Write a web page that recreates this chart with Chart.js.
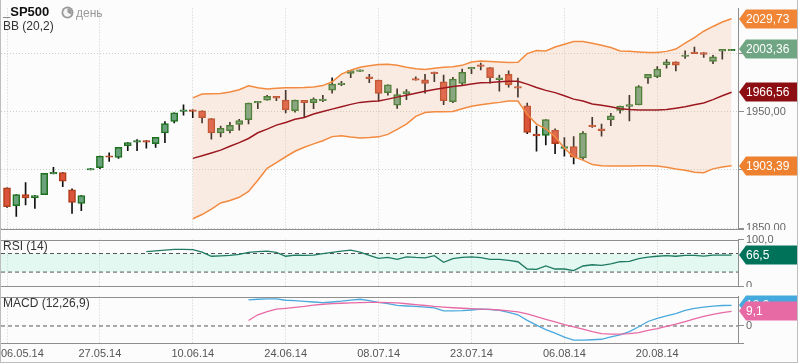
<!DOCTYPE html>
<html><head><meta charset="utf-8">
<script src="https://cdn.jsdelivr.net/npm/chart.js@4.4.1/dist/chart.umd.min.js"></script>
<style>
html,body{margin:0;padding:0;background:#fcfcfc;}
#wrap{position:relative;width:798px;height:363px;background:#fcfcfc;overflow:hidden;font-family:"Liberation Sans",Arial,sans-serif;}
.pane{position:absolute;left:0;width:798px;overflow:hidden;}
.pane canvas{position:absolute;left:0;top:0;}
#frame{position:absolute;left:0;top:0;width:798px;height:363px;box-sizing:border-box;border:1px solid #bdbdbd;border-top:none;pointer-events:none;}
.lbl{position:absolute;white-space:nowrap;font-size:12px;line-height:14px;color:#333;}
</style></head>
<body>
<div id="wrap">
  <div class="pane" style="top:0;height:230px"><canvas id="cMain" width="798" height="240"></canvas></div>
  <div class="pane" style="top:231px;height:56px"><canvas id="cRsi" width="798" height="70"></canvas></div>
  <div class="pane" style="top:288px;height:75px"><canvas id="cMacd" width="798" height="75"></canvas></div>
  <div class="lbl" style="left:3px;top:4px;font-size:13px;line-height:15px;font-weight:bold;color:#111">_SP500</div>
  <svg style="position:absolute;left:61px;top:6px" width="13" height="13" viewBox="0 0 13 13">
    <circle cx="6.5" cy="6.5" r="6" fill="#9a9a9a"/>
    <circle cx="6.5" cy="6.5" r="4.2" fill="#f4f4f4"/>
    <path d="M6.5 6.5 L6.5 2.3 A4.2 4.2 0 0 1 10.2 8.5 Z" fill="#9a9a9a"/>
  </svg>
  <div class="lbl" style="left:76px;top:6px;color:#999">день</div>
  <div class="lbl" style="left:3px;top:19px">BB (20,2)</div>
  <div class="lbl" style="left:3px;top:239px">RSI (14)</div>
  <div class="lbl" style="left:3px;top:296px">MACD (12,26,9)</div>
  <div id="frame"></div>
</div>
<script>
// ---------------- data ----------------
const CANDLE_OPEN = [1884.5,1869.3,1878.7,1875.9,1878.7,1896.5,1897.7,1882.8,1871.2,1899.8,
 1901.8,1912.0,1910.6,1920.8,1923.8,1925.0,1922.5,1931.6,1941.5,1950.2,
 1951.4,1950.6,1944.0,1931.6,1933.7,1939.0,1943.1,1957.4,1959.7,1963.0,
 1959.9,1950.8,1959.7,1957.7,1959.3,1968.4,1973.1,1982.8,1984.5,1979.8,
 1977.0,1966.3,1955.5,1965.1,1978.3,1977.3,1983.9,1975.6,1958.5,1974.2,
 1986.6,1990.2,1987.8,1977.5,1982.0,1971.5,1955.0,1930.7,1929.6,1934.1,
 1918.3,1920.0,1910.3,1938.4,1935.1,1942.8,1951.1,1954.4,1955.8,1978.7,
 1980.0,1990.2,1992.7,1997.4,2001.2,2000.7,1993.0,2001.8,2002.3];
const CANDLE_HIGH = [1884.5,1878.7,1889.1,1877.9,1896.9,1902.1,1897.7,1883.6,1877.9,1901.0,
 1911.7,1914.5,1919.2,1923.3,1926.0,1925.0,1927.9,1941.5,1948.9,1955.8,
 1951.4,1950.6,1944.0,1937.6,1940.7,1943.4,1957.2,1958.8,1964.0,1963.0,
 1968.2,1959.9,1959.7,1961.8,1964.0,1978.9,1975.9,1985.3,1985.8,1982.0,
 1977.0,1972.9,1969.6,1968.8,1979.8,1982.0,1983.9,1981.4,1979.5,1986.6,
 1988.0,1991.6,1987.8,1981.4,1985.0,1978.7,1957.4,1937.6,1943.1,1935.1,
 1927.7,1928.5,1932.9,1945.0,1939.3,1948.6,1954.7,1964.0,1972.3,1982.0,
 1988.6,1994.6,1992.7,2002.1,2005.4,2000.7,1998.2,2003.5,2003.4];
const CANDLE_LOW = [1867.6,1859.9,1869.8,1866.8,1878.7,1896.5,1885.5,1862.6,1864.9,1899.8,
 1901.0,1907.3,1909.8,1916.4,1916.4,1918.6,1919.2,1923.3,1940.3,1946.9,
 1944.8,1940.3,1926.3,1928.3,1931.6,1934.1,1939.5,1952.5,1959.7,1959.3,
 1948.9,1949.4,1944.8,1952.5,1958.5,1965.9,1972.3,1979.2,1984.5,1974.8,
 1959.1,1964.0,1952.7,1960.2,1977.0,1965.9,1975.6,1956.0,1957.7,1973.1,
 1982.5,1985.8,1974.5,1967.6,1970.9,1962.4,1931.0,1916.1,1921.3,1913.9,
 1911.7,1905.1,1908.9,1936.5,1928.8,1937.9,1948.6,1942.0,1955.8,1974.2,
 1979.2,1987.2,1985.0,1995.7,1999.8,1996.5,1991.1,1994.9,2002.3];
const CANDLE_CLOSE = [1868.4,1878.7,1875.9,1877.9,1896.9,1897.9,1890.3,1872.1,1877.9,1901.0,
 1911.7,1910.9,1919.2,1923.3,1925.2,1923.8,1927.9,1939.8,1948.9,1951.4,
 1950.2,1944.8,1931.6,1935.7,1938.2,1942.3,1957.2,1958.8,1963.2,1961.6,
 1951.4,1959.9,1957.7,1960.7,1960.7,1973.7,1974.5,1985.3,1985.8,1978.3,
 1965.5,1972.9,1964.6,1967.1,1977.0,1974.2,1982.5,1959.3,1977.9,1983.6,
 1988.0,1988.8,1979.2,1978.9,1972.9,1970.1,1932.1,1929.1,1943.1,1922.5,
 1920.0,1910.9,1931.6,1937.0,1933.7,1946.4,1954.7,1956.0,1971.5,1982.0,
 1986.4,1992.7,1989.9,1998.5,1999.8,1999.0,1997.1,2003.5,2003.36];

const BB_START = 20;
const BB_UPPER = [1961.8,1965.1,1965.3,1965.5,1966.8,1968.8,1972.1,1970.4,1969.4,1970.1,
 1970.4,1970.4,1970.7,1971.2,1972.3,1975.6,1982.2,1985.5,1988.0,1989.3,
 1990.5,1990.7,1989.7,1988.0,1986.8,1986.1,1987.2,1988.0,1988.4,1989.7,
 1992.6,1993.4,1993.0,1992.6,1992.1,1992.4,1999.8,2002.5,2002.1,2005.4,
 2007.8,2010.1,2010.1,2008.7,2007.0,2005.0,2002.1,2001.7,2001.2,2000.8,
 2000.7,2001.7,2003.7,2008.7,2013.6,2019.0,2023.1,2026.9,2029.73];
const BB_MIDDLE = [1909.8,1912.0,1914.5,1916.9,1920.2,1923.3,1926.9,1931.8,1934.9,1938.4,
 1940.7,1943.4,1945.0,1947.9,1950.0,1952.1,1954.1,1956.2,1957.9,1958.7,
 1959.1,1960.7,1962.4,1964.0,1965.7,1967.4,1969.0,1970.2,1971.5,1972.3,
 1973.6,1974.8,1975.0,1975.6,1976.0,1976.0,1973.6,1970.7,1968.2,1966.3,
 1963.6,1960.7,1959.1,1956.6,1955.4,1954.1,1952.5,1951.7,1951.4,1951.4,
 1951.4,1951.7,1952.9,1954.1,1955.8,1957.4,1960.3,1963.6,1966.56];
const BB_LOWER = [1858.0,1861.6,1866.3,1871.5,1873.7,1876.4,1881.4,1891.1,1901.2,1906.2,
 1911.2,1915.9,1919.4,1922.3,1925.0,1928.5,1929.3,1928.1,1927.3,1927.7,
 1928.3,1930.4,1934.7,1939.3,1945.9,1949.2,1949.8,1949.8,1950.0,1952.5,
 1954.5,1955.8,1957.0,1957.9,1959.1,1959.1,1947.5,1939.3,1935.1,1928.3,
 1918.6,1911.2,1908.3,1904.5,1903.5,1903.3,1903.3,1903.3,1903.5,1903.5,
 1903.3,1902.1,1900.7,1899.6,1897.9,1897.5,1900.8,1902.5,1903.39];

const RSI_START = 15;
const RSI_VALUES = [73.9,75.5,77.5,79.0,79.0,78.5,73.0,64.1,65.0,66.0,
 68.0,72.5,74.0,75.0,72.5,64.1,66.5,66.0,66.5,70.0,
 72.5,75.0,77.1,73.0,66.0,59.5,61.5,57.5,62.7,61.5,
 60.8,65.4,51.0,58.8,61.5,62.7,61.0,57.5,57.5,55.0,
 52.3,36.6,35.9,43.1,36.6,36.6,33.3,43.1,45.8,44.4,
 47.7,52.3,52.9,58.8,62.1,64.1,65.4,64.1,66.0,66.0,
 64.5,66.7,66.7,66.5];
const RSI_LEVELS = [30, 70];
const RSI_TICKS = [0, 100];

const MACD_START = 26;
const MACD_LINE = [16.3,16.7,17.0,17.0,16.1,15.8,15.4,15.0,14.6,15.0,
 15.5,16.2,16.7,15.8,14.8,14.0,12.9,12.5,12.2,11.8,
 11.3,9.4,9.4,9.6,10.0,10.5,10.3,9.7,8.5,7.0,
 3.5,0.5,-2.3,-4.5,-7.0,-8.9,-8.8,-8.6,-8.3,-6.8,
 -5.5,-3.5,-0.5,2.8,4.8,6.3,7.8,9.7,11.0,11.8,
 12.4,12.8,12.9];
const MACD_SIGNAL = [3.4,7.0,9.0,10.5,11.0,11.6,12.2,13.0,13.6,14.0,
 14.2,14.4,14.6,14.8,14.7,14.6,14.4,13.9,13.3,12.8,
 12.2,11.8,11.4,11.1,10.9,10.6,10.4,10.0,9.5,8.8,
 7.5,5.8,4.2,2.5,0.8,-0.6,-2.0,-3.5,-4.8,-5.1,
 -5.1,-4.8,-4.2,-2.8,-1.7,-0.3,1.2,2.8,4.5,6.0,
 7.2,8.4,9.1];
const MACD_LEVEL = [0];

const DATE_TICKS = [0,10,20,30,40,50,60,70];
const DATE_LABELS = ['06.05.14','27.05.14','10.06.14','24.06.14','08.07.14','23.07.14','06.08.14','20.08.14'];
const PRICE_TICKS = [1850,1900,1950,2000];

// ---------------- layout / style ----------------
const X_MIN = -0.646, X_MAX = 78.69;
const PRICE_MIN = 1849.17, PRICE_MAX = 2038.43;
const MACD_MIN = -10.64, MACD_MAX = 18.37;
const AXIS_W = 60;
const GRID = '#c9d2c9';
const FRAME = '#8e8e8e';
const FONT = '"Liberation Sans", Arial, sans-serif';
const GREEN_FILL = '#6aa27e', GREEN_LINE = '#1d701d';
const RED_FILL = '#da543b', RED_LINE = '#b03c1a';

Chart.defaults.font.family = FONT;
Chart.defaults.font.size = 11;
Chart.defaults.color = '#666';
Chart.defaults.animation = false;
Chart.defaults.plugins.legend.display = false;
Chart.defaults.plugins.tooltip.enabled = false;

const fmt = (v, d) => v.toFixed(d).replace('.', ',');
const pts = (arr, start) => arr.map((v, k) => ({x: start + k, y: v}));
const hline = v => [{x: X_MIN, y: v}, {x: X_MAX, y: v}];

function xScale() {
  return {
    type: 'linear', min: X_MIN, max: X_MAX, offset: false,
    afterBuildTicks: s => { s.ticks = DATE_TICKS.map(v => ({value: v})); },
    afterFit: s => { s.height = 0; },
    grid: {color: GRID, drawTicks: false, offset: false, lineWidth: 1},
    border: {display: false, dash: [1, 2]},
    ticks: {display: false}
  };
}
function yScale(min, max, ticks, fmtFn, drawGrid) {
  return {
    type: 'linear', position: 'right', min, max,
    afterBuildTicks: s => { s.ticks = ticks.map(v => ({value: v})); },
    afterFit: s => { s.width = AXIS_W; },
    grid: {color: GRID, drawOnChartArea: drawGrid, tickColor: FRAME, tickLength: 6, lineWidth: 1},
    border: {display: true, color: FRAME, width: 1, dash: [1, 2]},
    ticks: {callback: fmtFn, padding: 2, color: '#666', font: {size: 11}}
  };
}

const framePlugin = {
  id: 'frame',
  afterDraw(chart, args, opts) {
    const {ctx, chartArea: a} = chart;
    ctx.save();
    ctx.strokeStyle = FRAME; ctx.lineWidth = 1; ctx.setLineDash([]);
    ctx.beginPath();
    if (opts.top) { ctx.moveTo(0, Math.round(a.top) + 0.5); ctx.lineTo(a.right, Math.round(a.top) + 0.5); }
    if (opts.bottom) { ctx.moveTo(0, Math.round(a.bottom) + 0.5); ctx.lineTo(a.right + 6, Math.round(a.bottom) + 0.5); }
    ctx.stroke();
    ctx.restore();
  }
};

const badgePlugin = {
  id: 'badges',
  afterDraw(chart, args, opts) {
    const {ctx, chartArea: a} = chart;
    const ys = chart.scales.y;
    (opts.items || []).forEach(b => {
      const y = Math.round(ys.getPixelForValue(b.value));
      const x = a.right + 1, h = 19, tip = 7;
      ctx.save();
      ctx.fillStyle = b.color;
      ctx.beginPath();
      ctx.moveTo(x, y);
      ctx.lineTo(x + tip, y - h / 2);
      ctx.lineTo(x + 90, y - h / 2);
      ctx.lineTo(x + 90, y + h / 2);
      ctx.lineTo(x + tip, y + h / 2);
      ctx.closePath();
      ctx.fill();
      ctx.fillStyle = '#fff';
      ctx.font = '12px ' + FONT;
      ctx.textBaseline = 'middle';
      ctx.textAlign = 'left';
      ctx.fillText(fmt(b.value, b.digits), x + tip, y + 1);
      ctx.restore();
    });
  }
};

const dateLabelPlugin = {
  id: 'dates',
  afterDraw(chart) {
    const {ctx, chartArea: a} = chart;
    const xs = chart.scales.x;
    ctx.save();
    ctx.font = '11px ' + FONT;
    ctx.fillStyle = '#555';
    ctx.textBaseline = 'middle';
    ctx.textAlign = 'left';
    DATE_TICKS.forEach((t, k) => {
      const w = ctx.measureText(DATE_LABELS[k]).width;
      let x = xs.getPixelForValue(t) - w / 2;
      if (x < 1) x = 1;
      ctx.fillText(DATE_LABELS[k], x, a.bottom + 11);
    });
    ctx.restore();
  }
};

// ---------------- main chart ----------------
const idx = CANDLE_OPEN.map((_, i) => i);
const isUp = i => CANDLE_CLOSE[i] >= CANDLE_OPEN[i];
const last = arr => arr[arr.length - 1];

new Chart(document.getElementById('cMain'), {
  type: 'bar',
  data: {
    datasets: [
      {type: 'line', data: pts(BB_MIDDLE, BB_START), borderColor: '#9b1820', borderWidth: 1.5, pointRadius: 0, fill: false, order: 1},
      {type: 'line', data: pts(BB_UPPER, BB_START), borderColor: '#f28a3f', borderWidth: 1.5, pointRadius: 0, fill: false, order: 2},
      {type: 'line', data: pts(BB_LOWER, BB_START), borderColor: '#f28a3f', borderWidth: 1.5, pointRadius: 0, fill: 1, backgroundColor: 'rgba(247,184,147,0.24)', order: 3},
      {type: 'bar', data: idx.map(i => ({x: i, y: [CANDLE_OPEN[i], CANDLE_CLOSE[i]]})),
        backgroundColor: idx.map(i => isUp(i) ? GREEN_FILL : RED_FILL),
        borderColor: idx.map(i => isUp(i) ? GREEN_LINE : RED_LINE),
        borderWidth: 1.5, borderSkipped: false, barThickness: 7, grouped: false, order: 4},
      {type: 'bar', data: idx.map(i => ({x: i, y: [CANDLE_LOW[i], CANDLE_HIGH[i]]})),
        backgroundColor: '#111', barThickness: 1, grouped: false, order: 5}
    ]
  },
  options: {
    responsive: false, devicePixelRatio: 1,
    layout: {autoPadding: false, padding: {left: 1, right: 0, top: 0, bottom: 11}},
    scales: {x: xScale(), y: yScale(PRICE_MIN, PRICE_MAX, PRICE_TICKS, v => fmt(v, 2), true)},
    plugins: {
      frame: {bottom: true},
      badges: {items: [
        {value: last(BB_UPPER), digits: 2, color: '#ef8535'},
        {value: last(CANDLE_CLOSE), digits: 2, color: '#6fa583'},
        {value: last(BB_MIDDLE), digits: 2, color: '#8c0e13'},
        {value: last(BB_LOWER), digits: 2, color: '#ee8130'}
      ]}
    }
  },
  plugins: [framePlugin, badgePlugin]
});

// ---------------- RSI chart ----------------
new Chart(document.getElementById('cRsi'), {
  type: 'line',
  data: {
    datasets: [
      {data: pts(RSI_VALUES, RSI_START), borderColor: '#1f7a62', borderWidth: 1.3, pointRadius: 0, fill: false, order: 1},
      {data: hline(RSI_LEVELS[1]), borderColor: '#555', borderDash: [4, 3], borderWidth: 1, pointRadius: 0, fill: false, order: 2},
      {data: hline(RSI_LEVELS[0]), borderColor: '#555', borderDash: [4, 3], borderWidth: 1, pointRadius: 0, fill: 1, backgroundColor: 'rgba(170,240,215,0.3)', order: 3}
    ]
  },
  options: {
    responsive: false, devicePixelRatio: 1,
    layout: {autoPadding: false, padding: {left: 1, right: 0, top: 4, bottom: 15}},
    scales: {x: xScale(), y: yScale(0, 100, RSI_TICKS, v => v === 0 ? '0' : fmt(v, 1), false)},
    plugins: {
      frame: {top: true, bottom: true},
      badges: {items: [{value: last(RSI_VALUES), digits: 1, color: '#00725a'}]}
    }
  },
  plugins: [framePlugin, badgePlugin]
});

// ---------------- MACD chart ----------------
new Chart(document.getElementById('cMacd'), {
  type: 'line',
  data: {
    datasets: [
      {data: pts(MACD_SIGNAL, MACD_START), borderColor: '#e86aa5', borderWidth: 1.3, pointRadius: 0, fill: false, order: 1},
      {data: pts(MACD_LINE, MACD_START), borderColor: '#4aa9dc', borderWidth: 1.3, pointRadius: 0, fill: false, order: 2},
      {data: hline(MACD_LEVEL[0]), borderColor: '#555', borderDash: [4, 3], borderWidth: 1, pointRadius: 0, fill: false, order: 3}
    ]
  },
  options: {
    responsive: false, devicePixelRatio: 1,
    layout: {autoPadding: false, padding: {left: 1, right: 0, top: 4, bottom: 20}},
    scales: {x: xScale(), y: yScale(MACD_MIN, MACD_MAX, MACD_LEVEL, v => fmt(v, 0), false)},
    plugins: {
      frame: {top: true, bottom: true},
      badges: {items: [
        {value: last(MACD_LINE), digits: 1, color: '#45a9dd'},
        {value: last(MACD_SIGNAL), digits: 1, color: '#e86aa5'}
      ]}
    }
  },
  plugins: [framePlugin, badgePlugin, dateLabelPlugin]
});
</script>
</body></html>
